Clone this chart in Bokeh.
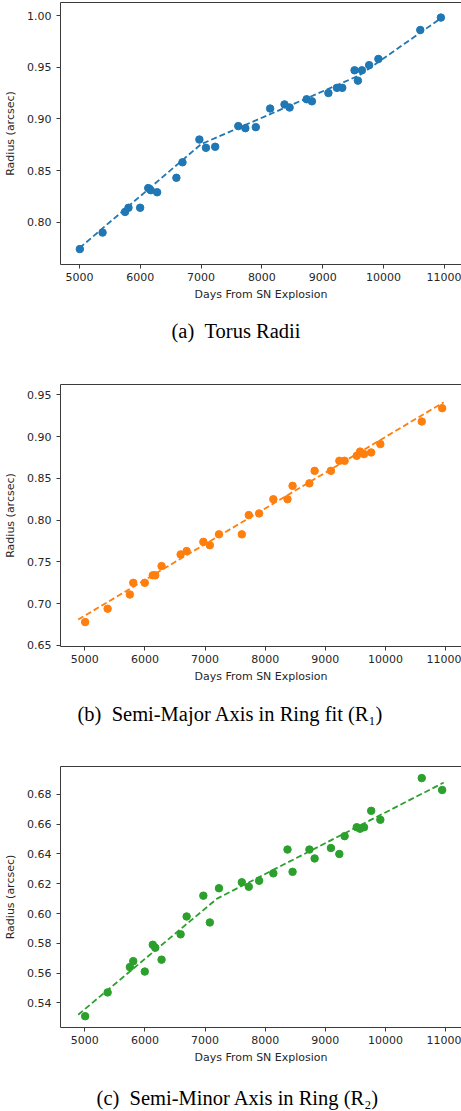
from bokeh.plotting import figure
from bokeh.models import Range1d, LinearAxis, FixedTicker, NumeralTickFormatter, Title
from bokeh.layouts import column
from bokeh.embed import file_html
from bokeh.resources import INLINE

# ---------------- data ----------------
days = [5006, 5380, 5750, 5806, 5998, 6131, 6172, 6277, 6594, 6694, 6972, 7080,
        7232, 7612, 7728, 7900, 8136, 8372, 8456, 8736, 8823, 9094, 9234, 9322,
        9524, 9579, 9645, 9764, 9916, 10605, 10944]

torus_radius = [0.774, 0.790, 0.810, 0.814, 0.814, 0.833, 0.831, 0.829, 0.843, 0.858,
                0.880, 0.872, 0.873, 0.893, 0.891, 0.892, 0.910, 0.914, 0.911, 0.919,
                0.917, 0.925, 0.930, 0.930, 0.947, 0.937, 0.947, 0.952, 0.958, 0.986,
                0.998]
semi_major = [0.678, 0.694, 0.711, 0.725, 0.725, 0.734, 0.734, 0.745, 0.759, 0.763,
              0.774, 0.770, 0.783, 0.783, 0.806, 0.808, 0.825, 0.825, 0.841, 0.844,
              0.859, 0.859, 0.871, 0.871, 0.877, 0.882, 0.879, 0.881, 0.891, 0.918,
              0.934]
semi_minor = [0.531, 0.547, 0.564, 0.568, 0.561, 0.579, 0.577, 0.569, 0.586, 0.598,
              0.612, 0.594, 0.617, 0.621, 0.618, 0.622, 0.627, 0.643, 0.628, 0.643,
              0.637, 0.644, 0.640, 0.652, 0.658, 0.657, 0.658, 0.669, 0.663, 0.691,
              0.683]

torus_fit_days = [5000, 7000, 9600, 10960]
torus_fit = [0.775, 0.8755, 0.942, 0.998]
major_fit_days = [4890, 10970]
major_fit = [0.681, 0.941]
minor_fit_days = [4890, 7200, 10970]
minor_fit = [0.532, 0.610, 0.688]

x_ticks = [5000, 6000, 7000, 8000, 9000, 10000, 11000]
torus_ticks = [0.80, 0.85, 0.90, 0.95, 1.00]
major_ticks = [0.65, 0.70, 0.75, 0.80, 0.85, 0.90, 0.95]
minor_ticks = [0.54, 0.56, 0.58, 0.60, 0.62, 0.64, 0.66, 0.68]

captions = ["(a)\u00a0\u00a0Torus Radii",
            "(b)\u00a0\u00a0Semi-Major Axis in Ring fit (R\u2081)",
            "(c)\u00a0\u00a0Semi-Minor Axis in Ring (R\u2082)"]

BLUE, ORANGE, GREEN = "#1f77b4", "#ff7f0e", "#2ca02c"
AX = "#3a3a3a"
TXT = "#262626"
CAP_FONT = "Liberation Serif"
CAP_SIZE = "20.5px"


def panel(vals, fdays, fvals, color, xr, yr, yticks, height, top, bottom, fill="white"):
    p = figure(width=461, height=height, x_range=Range1d(*xr), y_range=Range1d(*yr),
               output_backend="svg", toolbar_location=None,
               min_border_left=60, min_border_right=0,
               min_border_top=top, min_border_bottom=bottom)
    p.outline_line_color = None
    p.xgrid.visible = False
    p.ygrid.visible = False
    p.background_fill_color = fill
    p.border_fill_color = fill

    for ax in (p.xaxis[0], p.yaxis[0]):
        ax.axis_line_color = AX
        ax.axis_line_width = 1
        ax.major_tick_line_color = AX
        ax.major_tick_out = 4
        ax.major_tick_in = 0
        ax.minor_tick_line_color = None
        ax.major_label_text_font = "DejaVu Sans"
        ax.major_label_text_font_size = "11px"
        ax.major_label_text_color = TXT
        ax.axis_label_text_font = "DejaVu Sans"
        ax.axis_label_text_font_size = "11px"
        ax.axis_label_text_font_style = "normal"
        ax.axis_label_text_color = TXT

    p.xaxis.ticker = FixedTicker(ticks=x_ticks)
    p.xaxis.major_label_standoff = 4
    p.xaxis.axis_label = "Days From SN Explosion"
    p.xaxis.axis_label_standoff = 4

    p.yaxis.ticker = FixedTicker(ticks=yticks)
    p.yaxis.formatter = NumeralTickFormatter(format="0.00")
    p.yaxis.major_label_standoff = 5
    p.yaxis.axis_label = "Radius (arcsec)"
    p.yaxis.axis_label_standoff = 7

    top_ax = LinearAxis(ticker=FixedTicker(ticks=[]), axis_line_color=AX,
                        major_tick_out=0, major_tick_in=0, major_label_standoff=0,
                        minor_tick_line_color=None, major_tick_line_color=None)
    p.add_layout(top_ax, "above")

    p.scatter(days, vals, size=7.5, color=color, line_color=color)
    p.line(fdays, fvals, line_dash="6 3", line_width=1.8, color=color)
    return p


def title_caption(p, text, offset, standoff):
    p.add_layout(Title(text=text, align="left", offset=offset,
                       text_font=CAP_FONT, text_font_size=CAP_SIZE,
                       text_font_style="normal", text_color="black",
                       standoff=standoff), "below")


def axis_caption(p, text, standoff):
    cap_ax = LinearAxis(ticker=FixedTicker(ticks=[]), axis_line_color=None,
                        major_tick_out=0, major_tick_in=0, major_label_standoff=0,
                        minor_tick_line_color=None, major_tick_line_color=None,
                        axis_label=text, axis_label_standoff=standoff,
                        axis_label_text_font=CAP_FONT,
                        axis_label_text_font_size=CAP_SIZE,
                        axis_label_text_font_style="normal",
                        axis_label_text_color="black")
    p.add_layout(cap_ax, "below")


p1 = panel(torus_radius, torus_fit_days, torus_fit, BLUE,
           (4688, 11283), (0.7591, 1.0126), torus_ticks, 370, 2, 106, fill=None)
title_caption(p1, captions[0], 111, 29)

p2 = panel(semi_major, major_fit_days, major_fit, ORANGE,
           (4596, 11266), (0.6488, 0.9623), major_ticks, 382, 14, 106)
title_caption(p2, captions[1], 17, 31)

p3 = panel(semi_minor, minor_fit_days, minor_fit, GREEN,
           (4596, 11266), (0.5234, 0.6988), minor_ticks, 359, 14, 84)
axis_caption(p3, captions[2] + "\u2003\u2003\u00a0", 20)

layout = column(p1, p2, p3, spacing=0)
open("out.html", "w").write(file_html(layout, INLINE))
